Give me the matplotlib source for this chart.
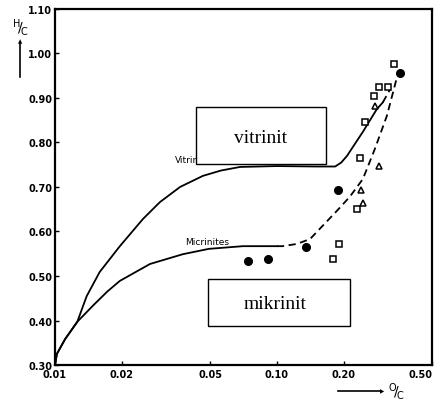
import matplotlib.pyplot as plt
from matplotlib.patches import Rectangle

# curves (O/C on log axis, H/C)
vit_x = [0.01, 0.0102, 0.0111, 0.0126, 0.0139, 0.0159, 0.0196, 0.0249, 0.0297, 0.0366,
         0.0464, 0.056, 0.0682, 0.10, 0.15, 0.183, 0.195, 0.207, 0.244, 0.282, 0.30]
vit_y = [0.30, 0.325, 0.358, 0.397, 0.455, 0.509, 0.567, 0.628, 0.666, 0.70,
         0.725, 0.737, 0.745, 0.747, 0.746, 0.746, 0.755, 0.77, 0.824, 0.875, 0.89]
vit_dash_x = [0.30, 0.324]
vit_dash_y = [0.89, 0.92]

mic_x = [0.01, 0.0102, 0.0111, 0.0126, 0.0148, 0.0172, 0.0196, 0.0268, 0.0377, 0.0494,
         0.0703, 0.10]
mic_y = [0.30, 0.325, 0.358, 0.397, 0.433, 0.465, 0.489, 0.527, 0.549, 0.561,
         0.567, 0.567]
mic_dash_x = [0.10, 0.106, 0.123, 0.141, 0.156, 0.186, 0.213, 0.244, 0.276, 0.313, 0.346, 0.356]
mic_dash_y = [0.567, 0.567, 0.572, 0.583, 0.606, 0.646, 0.678, 0.718, 0.785, 0.86, 0.943, 0.956]

# measured samples
sq_x = [0.336, 0.288, 0.316, 0.274, 0.249, 0.237, 0.229, 0.190, 0.179]
sq_y = [0.976, 0.925, 0.925, 0.904, 0.846, 0.765, 0.651, 0.572, 0.538]
tri_x = [0.276, 0.288, 0.239, 0.244]
tri_y = [0.882, 0.747, 0.693, 0.664]
dot_x = [0.358, 0.188, 0.135, 0.0738, 0.0916]
dot_y = [0.956, 0.693, 0.565, 0.534, 0.538]

xticks = [0.01, 0.02, 0.05, 0.10, 0.20, 0.50]
xtick_labels = ['0.01', '0.02', '0.05', '0.10', '0.20', '0.50']
yticks = [0.30, 0.40, 0.50, 0.60, 0.70, 0.80, 0.90, 1.00, 1.10]
ytick_labels = ['0.30', '0.40', '0.50', '0.60', '0.70', '0.80', '0.90', '1.00', '1.10']

fig = plt.figure(figsize=(4.41, 4.06), dpi=100)
ax = fig.add_axes([0.1247, 0.0985, 0.855, 0.877])

ax.plot(vit_x, vit_y, color='black', lw=1.3, solid_joinstyle='round')
ax.plot(vit_dash_x, vit_dash_y, color='black', lw=1.3, dashes=(4, 2.5))
ax.plot(mic_x, mic_y, color='black', lw=1.3, solid_joinstyle='round')
ax.plot(mic_dash_x, mic_dash_y, color='black', lw=1.3, dashes=(4, 2.5))

ax.plot(sq_x, sq_y, 's', ms=4.5, mfc='white', mec='black', mew=1.1, ls='none')
ax.plot(tri_x, tri_y, '^', ms=4.5, mfc='white', mec='black', mew=1.1, ls='none')
ax.plot(dot_x, dot_y, 'o', ms=5.5, color='black', ls='none')

ax.set_xscale('log')
ax.set_xlim(0.01, 0.50)
ax.set_ylim(0.30, 1.10)
ax.set_xticks(xticks)
ax.set_xticklabels(xtick_labels)
ax.set_yticks(yticks)
ax.set_yticklabels(ytick_labels)
ax.minorticks_off()
ax.tick_params(direction='in', length=3, width=1, labelsize=7, pad=2)
ax.tick_params(axis='x', pad=3)
for lbl in ax.get_xticklabels() + ax.get_yticklabels():
    lbl.set_fontweight('bold')
ax.get_xticklabels()[-1].set_horizontalalignment('right')
for s in ax.spines.values():
    s.set_linewidth(1.6)

# curve labels (partly hidden behind the boxes)
ax.text(0.318, 0.576, 'Vitrinite', transform=ax.transAxes, fontsize=6.5,
        ha='left', va='center', zorder=3)
ax.text(0.345, 0.348, 'Micrinites', transform=ax.transAxes, fontsize=6.5,
        ha='left', va='center', zorder=3)

# boxed annotations
ax.add_patch(Rectangle((0.374, 0.565), 0.345, 0.160, transform=ax.transAxes,
                       fc='white', ec='black', lw=1, zorder=5))
ax.text(0.5465, 0.64, 'vitrinit', transform=ax.transAxes, fontsize=14,
        family='Liberation Serif', ha='center', va='center', zorder=6)
ax.add_patch(Rectangle((0.406, 0.110), 0.376, 0.132, transform=ax.transAxes,
                       fc='white', ec='black', lw=1, zorder=5))
ax.text(0.585, 0.172, 'mikrinit', transform=ax.transAxes, fontsize=14,
        family='Liberation Serif', ha='center', va='center', zorder=6)

# axis labels with arrows
fig.text(20 / 441, 1 - 27 / 406, r'$^{\mathrm{H}}\!/\!_{\mathrm{C}}$', fontsize=10,
         ha='center', va='center')
fig.add_artist(plt.Line2D([20 / 441, 20 / 441], [1 - 78 / 406, 1 - 44 / 406],
                          color='black', lw=1.2))
fig.text(20 / 441, 1 - 42 / 406, '▲', fontsize=4, ha='center', va='center')
fig.add_artist(plt.Line2D([338 / 441, 380 / 441], [1 - 392 / 406, 1 - 392 / 406],
                          color='black', lw=1.2))
fig.text(382 / 441, 1 - 392 / 406, '▶', fontsize=4, ha='center', va='center')
fig.text(396 / 441, 1 - 392 / 406, r'$^{\mathrm{O}}\!/\!_{\mathrm{C}}$', fontsize=10,
         ha='center', va='center')

fig.savefig('out.png', dpi=100)
